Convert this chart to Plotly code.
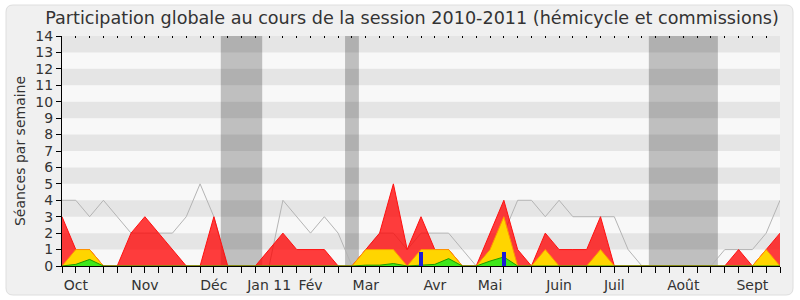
import plotly.graph_objects as go

# ---- data (weekly, session 2010-2011) ----
weeks = list(range(53))
red = [3, 1, 1, 0, 0, 2, 3, 2, 1, 0, 0, 3, 0, 0, 0, 1, 2, 1, 1, 1, 0, 0, 1, 2, 5, 1, 3, 1, 1, 0,
       0, 2, 4, 1, 0, 2, 1, 1, 1, 3, 0, 0, 0, 0, 0, 0, 0, 0, 0, 1, 0, 1, 2]
yellow = [0, 1, 1, 0, 0, 0, 0, 0, 0, 0, 0, 0, 0, 0, 0, 0, 0, 0, 0, 0, 0, 0, 1, 1, 1, 0, 1, 1, 1, 0,
          0, 1, 3, 0, 0, 1, 0, 0, 0, 1, 0, 0, 0, 0, 0, 0, 0, 0, 0, 0, 0, 1, 0]
green = [0, 0.1, 0.4, 0, 0, 0, 0, 0, 0, 0, 0, 0, 0, 0, 0, 0, 0, 0, 0, 0, 0, 0, 0.05, 0.05, 0.15, 0,
         0.05, 0.1, 0.45, 0, 0, 0.3, 0.55, 0, 0, 0, 0, 0, 0, 0, 0, 0, 0, 0, 0, 0, 0, 0, 0, 0, 0, 0, 0]
gray = [4, 4, 3, 4, 3, 2, 2, 2, 2, 3, 5, 3, 0, 0, 0, 0, 4, 3, 2, 3, 2, 0, 1, 2, 2, 1, 2, 2, 2, 1,
        0, 1, 2, 4, 4, 3, 4, 3, 3, 3, 3, 1, 0, 0, 0, 0, 0, 0, 1, 1, 1, 2, 4]
blue_weeks = [26, 32]
blue_vals = [0.85, 0.85]
month_pos = [1, 6, 11, 15, 18, 22, 27, 31, 36, 40, 45, 50]
month_lbl = ["Oct", "Nov", "Déc", "Jan 11", "Fév", "Mar", "Avr", "Mai", "Juin", "Juil", "Août", "Sept"]
vacations = [(11.5, 14.5), (20.5, 21.5), (42.5, 47.5)]

FONT = "DejaVu Sans"
W, H = 800, 300
ML, MR, MT, MB = 62, 20, 36, 34
PW, PH = W - ML - MR, H - MT - MB

ticktext = []
for w in weeks:
    ticktext.append(month_lbl[month_pos.index(w)] if w in month_pos else "")

fig = go.Figure()

fig.add_trace(go.Scatter(x=weeks, y=gray, mode="lines",
                         line=dict(color="#b4b4b4", width=1), hoverinfo="skip"))
fig.add_trace(go.Scatter(x=weeks, y=red, mode="lines", fill="tozeroy",
                         fillcolor="rgba(255,0,0,0.76)", line=dict(color="#ff1010", width=1)))
fig.add_trace(go.Scatter(x=weeks, y=yellow, mode="lines", fill="tozeroy",
                         fillcolor="#ffd500", line=dict(color="rgb(255,150,0)", width=1)))
fig.add_trace(go.Scatter(x=weeks, y=green, mode="lines", fill="tozeroy",
                         fillcolor="#3ee81a", line=dict(color="#1e9a00", width=1)))
# bars on an overlaid subplot so they are drawn above the filled areas
fig.add_trace(go.Bar(x=blue_weeks, y=blue_vals, width=0.34, xaxis="x2", yaxis="y2",
                     marker=dict(color="#1c1cd6", line=dict(width=0))))


def px2paper(x, y):
    return (x - ML) / PW, (H - MB - y) / PH


def rounded_path(x0, y0, x1, y1, r):
    def p(x, y):
        a, b = px2paper(x, y)
        return f"{a:.5f},{b:.5f}"
    s = f"M {p(x0 + r, y0)} L {p(x1 - r, y0)} Q {p(x1, y0)} {p(x1, y0 + r)} "
    s += f"L {p(x1, y1 - r)} Q {p(x1, y1)} {p(x1 - r, y1)} "
    s += f"L {p(x0 + r, y1)} Q {p(x0, y1)} {p(x0, y1 - r)} "
    s += f"L {p(x0, y0 + r)} Q {p(x0, y0)} {p(x0 + r, y0)} Z"
    return s


shapes = []
shapes.append(dict(type="path", xref="paper", yref="paper", layer="below",
                   path=rounded_path(6, 5, 793, 295, 7),
                   fillcolor="#f0f0f0", line=dict(color="#dedede", width=1)))
shapes.append(dict(type="rect", xref="x", yref="y", layer="below", x0=0, x1=52, y0=0, y1=14,
                   fillcolor="#f8f8f8", line=dict(width=0)))
for a, b in vacations:
    shapes.append(dict(type="rect", xref="x", yref="y", layer="below", x0=a, x1=b, y0=0, y1=14,
                       fillcolor="#bfbfbf", line=dict(width=0)))
for k in range(1, 14, 2):
    shapes.append(dict(type="rect", xref="x", yref="y", layer="below", x0=0, x1=52, y0=k, y1=k + 1,
                       fillcolor="rgba(0,0,0,0.075)", line=dict(width=0)))

fig.update_layout(
    width=W, height=H,
    margin=dict(l=ML, r=MR, t=MT, b=MB),
    paper_bgcolor="white", plot_bgcolor="rgba(0,0,0,0)",
    showlegend=False, shapes=shapes, bargap=0,
    font=dict(family=FONT, color="#333333", size=14),
    title=dict(text="Participation globale au cours de la session 2010-2011 (hémicycle et commissions)",
               x=412 / W, xanchor="center", y=1 - 18 / H, yanchor="middle",
               font=dict(family=FONT, size=17.6, color="#333333")),
    xaxis=dict(range=[0, 52], tickmode="array", tickvals=weeks, ticktext=ticktext,
               ticks="outside", ticklen=6, tickcolor="#000", tickwidth=1, automargin=False,
               showline=True, linecolor="#000", linewidth=1, showgrid=False, zeroline=False,
               tickfont=dict(size=14, color="#333333"), fixedrange=True),
    xaxis2=dict(range=[0, 52], overlaying="x", side="top", tickmode="array", tickvals=weeks,
                ticks="inside", ticklen=2, tickcolor="#000", showticklabels=False, automargin=False,
                showline=False, showgrid=False, zeroline=False),
    yaxis=dict(range=[0, 14], tickmode="linear", tick0=0, dtick=1, automargin=False,
               ticks="outside", ticklen=5, tickcolor="#000",
               showline=True, linecolor="#000", linewidth=1, showgrid=False, zeroline=False,
               tickfont=dict(size=14, color="#333333"),
               title=dict(text="Séances par semaine", font=dict(size=14, color="#333333"), standoff=6)),
    yaxis2=dict(range=[0, 14], overlaying="y", visible=False, automargin=False),
)

fig.write_html("out.html")
